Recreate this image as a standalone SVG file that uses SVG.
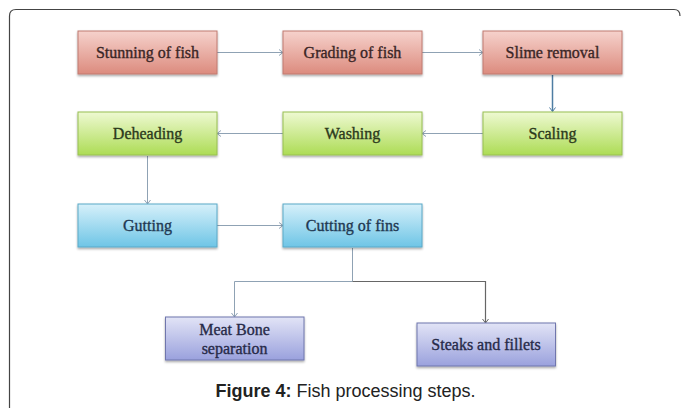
<svg xmlns="http://www.w3.org/2000/svg" width="683" height="408" viewBox="0 0 683 408">
<style>
.box{stroke-width:1}
.red{fill:url(#gRed);stroke:#c07a70}
.green{fill:url(#gGreen);stroke:#98bf52}
.blue{fill:url(#gBlue);stroke:#5aa9c8}
.purple{fill:url(#gPurple);stroke:#6f76ad}
.lbl{font-family:"Liberation Serif","DejaVu Serif",serif;font-size:16px;text-anchor:middle;fill:#3a2626;stroke:#3a2626;stroke-width:0.35}
.lg{fill:#2c3a1c;stroke:#2c3a1c}
.lb{fill:#1f3852;stroke:#1f3852}
.lp{fill:#272a48;stroke:#272a48}
.con{fill:none;stroke:#8fa2b4;stroke-width:1}
.dark{stroke:#4e7da3;stroke-width:1.5}
.gray{stroke:#666;stroke-width:1.2}
.cap{font-family:"Liberation Sans",Arial,sans-serif;font-size:18px;fill:#222;text-anchor:middle}
</style>
<defs>
<linearGradient id="gRed" x1="0" y1="0" x2="0" y2="1"><stop offset="0" stop-color="#f6d2cc"/><stop offset="1" stop-color="#dc8b7e"/></linearGradient>
<linearGradient id="gGreen" x1="0" y1="0" x2="0" y2="1"><stop offset="0" stop-color="#eef9d2"/><stop offset="1" stop-color="#addc55"/></linearGradient>
<linearGradient id="gBlue" x1="0" y1="0" x2="0" y2="1"><stop offset="0" stop-color="#d6f0fa"/><stop offset="1" stop-color="#6ec5e6"/></linearGradient>
<linearGradient id="gPurple" x1="0" y1="0" x2="0" y2="1"><stop offset="0" stop-color="#e2e4f6"/><stop offset="1" stop-color="#9aa1dd"/></linearGradient>
<filter id="sh" x="-5%" y="-5%" width="110%" height="125%"><feDropShadow dx="0" dy="1.5" stdDeviation="1" flood-color="#000" flood-opacity="0.35"/></filter>
<marker id="arr" markerWidth="8" markerHeight="8" refX="6" refY="4" orient="auto" markerUnits="userSpaceOnUse"><path d="M2,1 L6,4 L2,7" fill="none" stroke="#8fa2b4" stroke-width="1"/></marker>
<marker id="arrD" markerWidth="8" markerHeight="8" refX="6" refY="4" orient="auto" markerUnits="userSpaceOnUse"><path d="M2,1 L6,4 L2,7" fill="none" stroke="#4e7da3" stroke-width="1"/></marker>
<marker id="arrG" markerWidth="8" markerHeight="8" refX="6" refY="4" orient="auto" markerUnits="userSpaceOnUse"><path d="M2,1 L6,4 L2,7" fill="none" stroke="#666" stroke-width="1"/></marker>
</defs>
<rect x="0" y="0" width="683" height="408" fill="#fff"/>
<path d="M9.5,420 L9.5,16 Q9.5,9.5 16,9.5 L674,9.5 Q680,9.5 680,16" fill="none" stroke="#444" stroke-width="1.2"/>
<g id="connectors">
<line class="con" x1="217" y1="52.5" x2="283" y2="52.5" marker-end="url(#arr)"/>
<line class="con" x1="422" y1="52.5" x2="483" y2="52.5" marker-end="url(#arr)"/>
<line class="con dark" x1="552.5" y1="75" x2="552.5" y2="111.5" marker-end="url(#arrD)"/>
<line class="con" x1="483" y1="133.5" x2="422" y2="133.5" marker-end="url(#arr)"/>
<line class="con" x1="283" y1="133.5" x2="217" y2="133.5" marker-end="url(#arr)"/>
<line class="con" x1="147.5" y1="156" x2="147.5" y2="204" marker-end="url(#arr)"/>
<line class="con" x1="217" y1="225.5" x2="283" y2="225.5" marker-end="url(#arr)"/>
<polyline class="con" points="352.5,248 352.5,281.5 234.5,281.5 234.5,317" marker-end="url(#arr)"/>
<polyline class="con gray" points="352.5,281.5 485.5,281.5 485.5,323" marker-end="url(#arrG)"/>
</g>
<g id="stunning"><rect class="box red" x="78" y="31" width="139" height="43" filter="url(#sh)"/><text class="lbl" x="147.5" y="58">Stunning of fish</text></g>
<g id="grading"><rect class="box red" x="283" y="31" width="139" height="43" filter="url(#sh)"/><text class="lbl" x="352.5" y="58">Grading of fish</text></g>
<g id="slime"><rect class="box red" x="483" y="31" width="139" height="43" filter="url(#sh)"/><text class="lbl" x="552.5" y="58">Slime removal</text></g>
<g id="deheading"><rect class="box green" x="78" y="112" width="139" height="43" filter="url(#sh)"/><text class="lbl lg" x="147.5" y="139">Deheading</text></g>
<g id="washing"><rect class="box green" x="283" y="112" width="139" height="43" filter="url(#sh)"/><text class="lbl lg" x="352.5" y="139">Washing</text></g>
<g id="scaling"><rect class="box green" x="483" y="112" width="139" height="43" filter="url(#sh)"/><text class="lbl lg" x="552.5" y="139">Scaling</text></g>
<g id="gutting"><rect class="box blue" x="78" y="204" width="139" height="43" filter="url(#sh)"/><text class="lbl lb" x="147.5" y="231">Gutting</text></g>
<g id="cutting"><rect class="box blue" x="283" y="204" width="139" height="43" filter="url(#sh)"/><text class="lbl lb" x="352.5" y="231">Cutting of fins</text></g>
<g id="meatbone"><rect class="box purple" x="165.5" y="317" width="138.5" height="43" filter="url(#sh)"/><text class="lbl lp" x="234.5" y="335">Meat Bone</text><text class="lbl lp" x="234.5" y="354">separation</text></g>
<g id="steaks"><rect class="box purple" x="417" y="323" width="138.5" height="43" filter="url(#sh)"/><text class="lbl lp" x="486" y="350">Steaks and fillets</text></g>
<text class="cap" x="345.5" y="396.5"><tspan font-weight="bold">Figure 4:</tspan> Fish processing steps.</text>
</svg>
